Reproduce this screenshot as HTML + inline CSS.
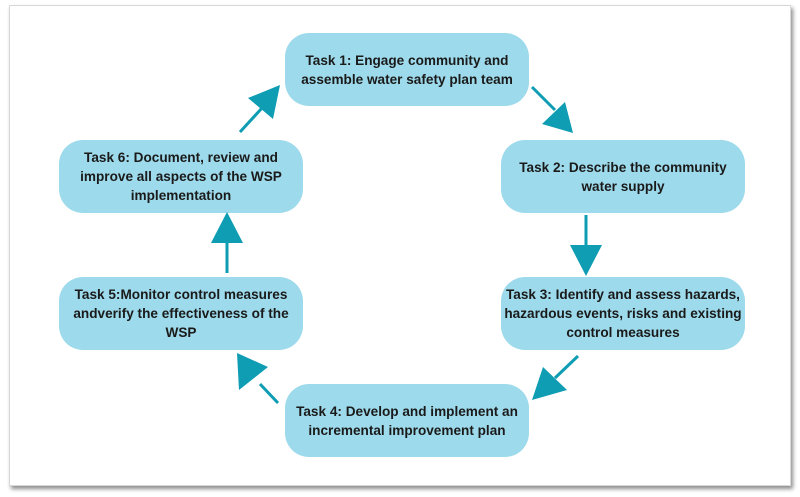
<!DOCTYPE html>
<html><head><style>
body{margin:0;width:800px;height:497px;background:#fff;position:relative;overflow:hidden;font-family:"Liberation Sans",Arial,sans-serif}
.card{position:absolute;left:9px;top:5px;width:780px;height:479px;background:#fff;border:1px solid #d8d8d8;box-shadow:2px 3px 4px rgba(0,0,0,.45)}
.b{position:absolute;width:244px;height:73px;background:#9ddaeb;border-radius:24px;display:flex;align-items:center;justify-content:center;text-align:center;font-weight:bold;font-size:13.6px;line-height:19px;color:#1a1a1a;white-space:nowrap}
svg{position:absolute;left:0;top:0}
</style></head><body>
<div class="card"></div>
<div class="b" style="left:285px;top:33px">Task 1: Engage community and<br>assemble water safety plan team</div>
<div class="b" style="left:59px;top:140px">Task 6: Document, review and<br>improve all aspects of the WSP<br>implementation</div>
<div class="b" style="left:501px;top:140px">Task 2: Describe the community<br>water supply</div>
<div class="b" style="left:501px;top:277px">Task 3: Identify and assess hazards,<br>hazardous events, risks and existing<br>control measures</div>
<div class="b" style="left:59px;top:277px">Task 5:Monitor control measures<br>andverify the effectiveness of the<br>WSP</div>
<div class="b" style="left:285px;top:384px">Task 4: Develop and implement an<br>incremental improvement plan</div>
<svg width="800" height="497">
<g stroke="#0e9db3" stroke-width="3" fill="none">
<line x1="240" y1="132" x2="262" y2="108"/>
<line x1="532" y1="87" x2="555" y2="110"/>
<line x1="586" y1="215" x2="586" y2="246"/>
<line x1="578" y1="356" x2="555" y2="378"/>
<line x1="278" y1="403" x2="260" y2="384"/>
<line x1="227" y1="273" x2="227" y2="242"/>
</g>
<g fill="#0e9db3">
<polygon points="280,85 248,98 273,119"/>
<polygon points="573,133 542,124 565,102"/>
<polygon points="586,276 570,245 602,245"/>
<polygon points="532,400 543,367 567,390"/>
<polygon points="237,353 239,390 268,367"/>
<polygon points="227,212 211,243 243,243"/>
</g>
</svg>
</body></html>
